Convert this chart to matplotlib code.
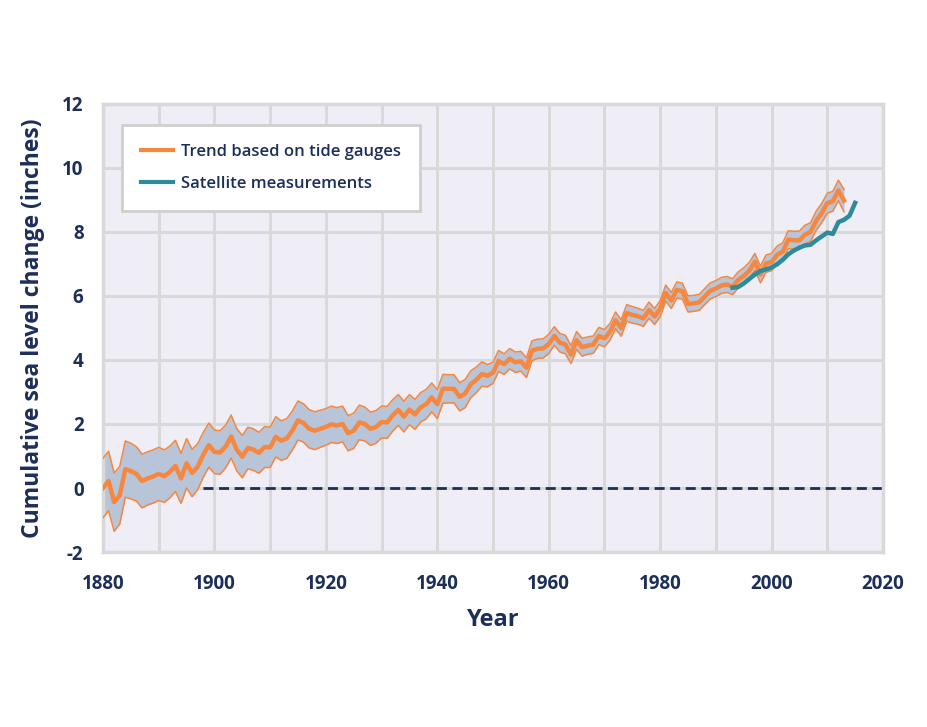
import matplotlib.pyplot as plt
import numpy as np

# tide gauge trend (CSIRO reconstruction), inches
years = np.arange(1880, 2014)
trend = [
    0.00, 0.22, -0.44, -0.23, 0.59, 0.53, 0.44, 0.22, 0.30, 0.36,
    0.44, 0.37, 0.50, 0.69, 0.30, 0.77, 0.47, 0.67, 1.04, 1.34,
    1.13, 1.11, 1.29, 1.61, 1.20, 0.98, 1.25, 1.20, 1.10, 1.28,
    1.27, 1.60, 1.48, 1.55, 1.80, 2.11, 2.03, 1.85, 1.79, 1.85,
    1.91, 1.99, 1.95, 2.00, 1.71, 1.79, 2.05, 2.00, 1.85, 1.91,
    2.06, 2.05, 2.27, 2.44, 2.23, 2.45, 2.30, 2.52, 2.62, 2.83,
    2.62, 3.10, 3.10, 3.10, 2.85, 2.95, 3.24, 3.38, 3.56, 3.51,
    3.60, 3.97, 3.87, 4.04, 3.93, 3.96, 3.76, 4.29, 4.35, 4.36,
    4.50, 4.75, 4.54, 4.48, 4.17, 4.61, 4.40, 4.45, 4.48, 4.75,
    4.68, 4.88, 5.24, 5.00, 5.47, 5.41, 5.37, 5.30, 5.56, 5.36,
    5.60, 6.09, 5.86, 6.19, 6.15, 5.75, 5.77, 5.80, 5.98, 6.16,
    6.23, 6.33, 6.36, 6.29, 6.50, 6.62, 6.79, 7.07, 6.67, 7.01,
    7.06, 7.29, 7.38, 7.76, 7.74, 7.74, 7.92, 8.00, 8.35, 8.59,
    8.90, 8.96, 9.30, 8.98,
]
lower = [
    -0.93, -0.71, -1.35, -1.13, -0.29, -0.34, -0.41, -0.62, -0.53, -0.47,
    -0.39, -0.45, -0.31, -0.11, -0.48, 0.00, -0.27, -0.05, 0.34, 0.65,
    0.45, 0.43, 0.62, 0.94, 0.54, 0.32, 0.60, 0.55, 0.46, 0.64,
    0.64, 0.97, 0.86, 0.93, 1.19, 1.50, 1.43, 1.25, 1.20, 1.27,
    1.34, 1.42, 1.39, 1.44, 1.16, 1.24, 1.51, 1.47, 1.33, 1.40,
    1.56, 1.55, 1.78, 1.96, 1.75, 1.98, 1.83, 2.06, 2.16, 2.38,
    2.17, 2.65, 2.66, 2.66, 2.41, 2.51, 2.82, 2.98, 3.18, 3.16,
    3.27, 3.64, 3.55, 3.72, 3.61, 3.65, 3.45, 3.98, 4.05, 4.06,
    4.20, 4.46, 4.25, 4.19, 3.89, 4.33, 4.12, 4.18, 4.21, 4.48,
    4.41, 4.62, 4.98, 4.74, 5.21, 5.15, 5.12, 5.05, 5.31, 5.11,
    5.35, 5.84, 5.61, 5.94, 5.90, 5.50, 5.52, 5.55, 5.73, 5.91,
    5.98, 6.08, 6.11, 6.04, 6.25, 6.36, 6.53, 6.81, 6.41, 6.74,
    6.79, 7.02, 7.10, 7.48, 7.46, 7.45, 7.63, 7.71, 8.05, 8.29,
    8.59, 8.65, 8.98, 8.63,
]
upper = [
    0.93, 1.15, 0.47, 0.67, 1.47, 1.40, 1.29, 1.06, 1.13, 1.19,
    1.27, 1.19, 1.31, 1.49, 1.08, 1.54, 1.21, 1.39, 1.74, 2.03,
    1.81, 1.79, 1.96, 2.28, 1.86, 1.64, 1.90, 1.85, 1.74, 1.92,
    1.90, 2.23, 2.10, 2.17, 2.41, 2.72, 2.63, 2.45, 2.38, 2.43,
    2.48, 2.56, 2.51, 2.56, 2.26, 2.34, 2.59, 2.53, 2.37, 2.42,
    2.56, 2.55, 2.76, 2.92, 2.71, 2.92, 2.77, 2.98, 3.08, 3.28,
    3.07, 3.55, 3.54, 3.54, 3.29, 3.39, 3.66, 3.78, 3.94, 3.86,
    3.93, 4.30, 4.19, 4.36, 4.25, 4.27, 4.07, 4.60, 4.65, 4.66,
    4.80, 5.04, 4.83, 4.77, 4.45, 4.89, 4.68, 4.72, 4.75, 5.02,
    4.95, 5.14, 5.50, 5.26, 5.73, 5.67, 5.62, 5.55, 5.81, 5.61,
    5.85, 6.34, 6.11, 6.44, 6.40, 6.00, 6.02, 6.05, 6.23, 6.41,
    6.48, 6.58, 6.61, 6.54, 6.75, 6.88, 7.05, 7.33, 6.93, 7.28,
    7.33, 7.56, 7.66, 8.04, 8.02, 8.03, 8.21, 8.29, 8.65, 8.89,
    9.21, 9.27, 9.62, 9.33,
]

# satellite altimetry, inches
sat_years = np.arange(1993, 2016)
satellite = [
    6.26, 6.28, 6.39, 6.53, 6.67, 6.78, 6.83, 6.89, 6.99, 7.13,
    7.30, 7.42, 7.51, 7.58, 7.60, 7.74, 7.86, 7.98, 7.94, 8.31,
    8.38, 8.51, 8.91,
]

baseline_years = [1898, 2020]
baseline = [0, 0]

navy = "#1c2e5a"
orange = "#f5873f"
teal = "#2e8b98"
band = "#b8c5d8"
grid_c = "#d9d9d9"

plt.rcParams["font.family"] = ["Open Sans", "DejaVu Sans"]
plt.rcParams["axes.unicode_minus"] = False

fig = plt.figure(figsize=(9.28, 7.27), dpi=100)
ax = fig.add_axes([0.111, 0.2407, 0.8405, 0.6163])
ax.set_facecolor("#efedf5")

ax.fill_between(years, lower, upper, color=band, lw=0, zorder=2)
ax.plot(years, lower, color=orange, lw=1.1, zorder=3)
ax.plot(years, upper, color=orange, lw=1.1, zorder=3)
ax.plot(years, trend, color=orange, lw=3.2, zorder=4,
        label="Trend based on tide gauges")
ax.plot(sat_years, satellite, color=teal, lw=3.2, zorder=5,
        label="Satellite measurements")
ax.plot(baseline_years, baseline, color=navy, lw=2.0, ls=(0, (3.6, 2.0)), zorder=2)

ax.set_xlim(1880, 2020)
ax.set_ylim(-2, 12)
ax.set_xticks(np.arange(1880, 2021, 20))
ax.set_xticks(np.arange(1880, 2021, 10), minor=True)
ax.set_yticks(np.arange(-2, 13, 2))
ax.grid(True, which="both", color=grid_c, lw=2.2, zorder=1)
ax.set_axisbelow(True)
ax.tick_params(which="both", length=0)
ax.tick_params(axis="x", pad=16)
ax.tick_params(axis="y", pad=14)
for lab in ax.get_xticklabels() + ax.get_yticklabels():
    lab.set_fontsize(13.5)
    lab.set_fontweight("bold")
    lab.set_color(navy)
for s in ax.spines.values():
    s.set_color(grid_c)
    s.set_linewidth(2.5)

ax.set_xlabel("Year", fontsize=17, fontweight="bold", color=navy, labelpad=10)
ax.set_ylabel("Cumulative sea level change (inches)", fontsize=16.5,
              fontweight="bold", color=navy, labelpad=12)

leg = ax.legend(loc="upper left", bbox_to_anchor=(0.024, 0.953), borderaxespad=0,
                fancybox=False, framealpha=1, edgecolor="#cfcfcf",
                fontsize=12, handlelength=1.9, handletextpad=0.5,
                borderpad=1.15, labelspacing=0.95)
leg.get_frame().set_linewidth(2)
for h in leg.get_lines():
    h.set_linewidth(3)
for t in leg.get_texts():
    t.set_color(navy)
    t.set_fontweight("semibold")

fig.savefig("out.png", dpi=100)
